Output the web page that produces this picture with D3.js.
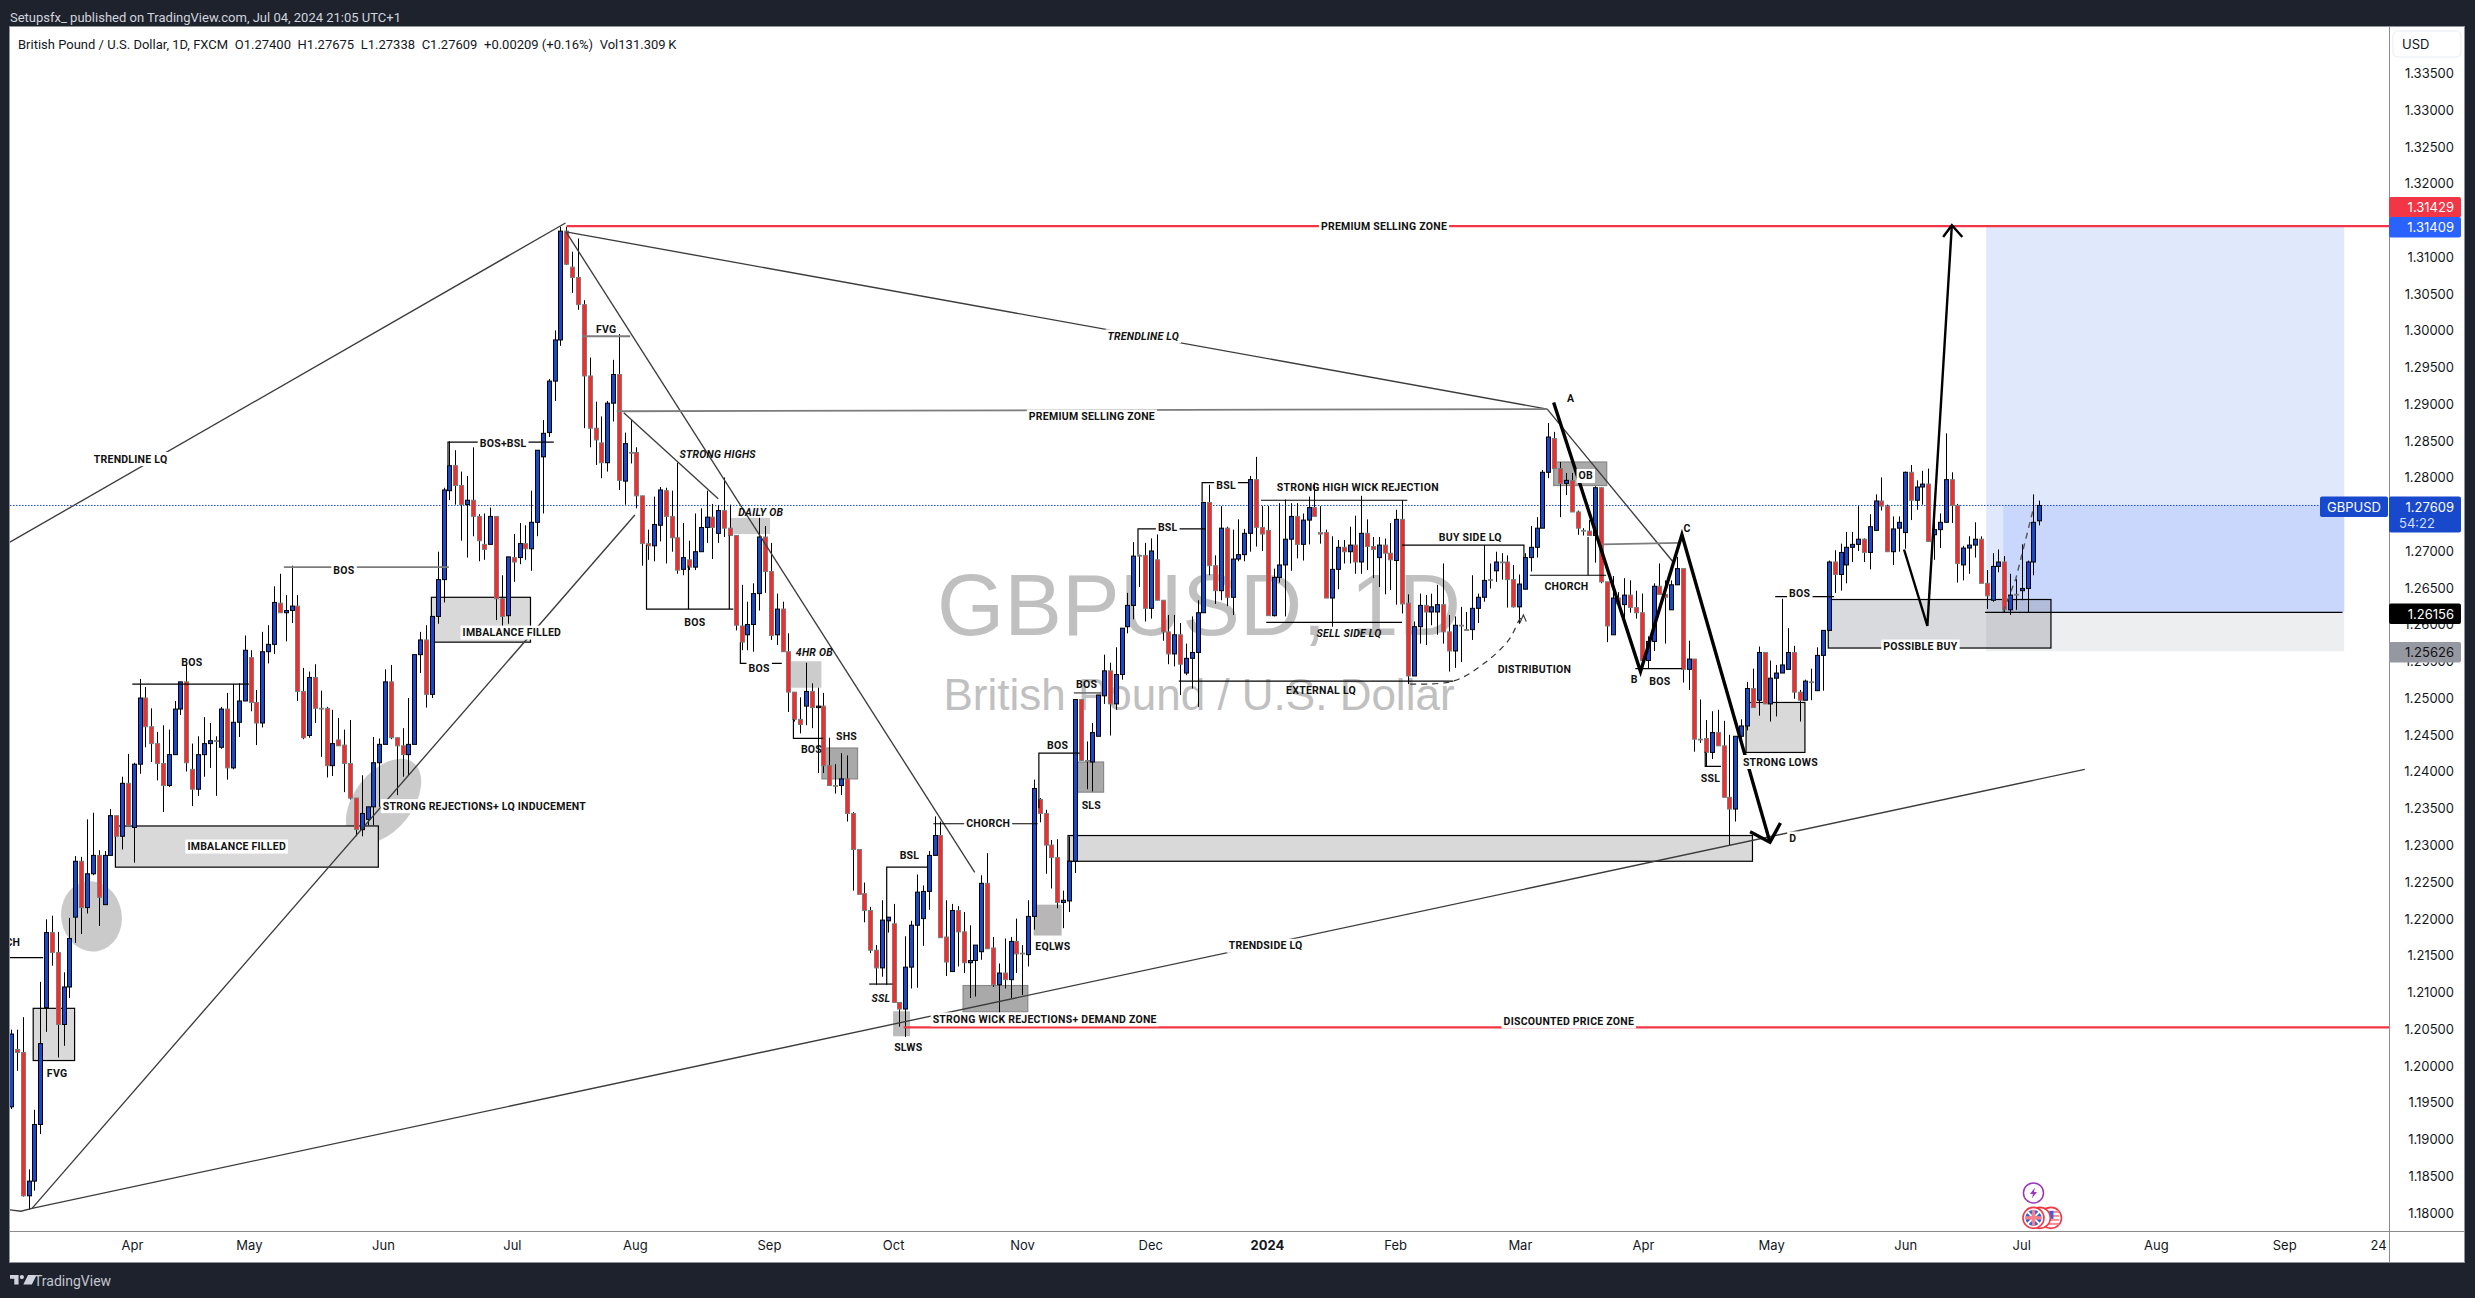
<!DOCTYPE html>
<html><head><meta charset="utf-8">
<script src="https://cdn.jsdelivr.net/npm/d3@7"></script>
<style>
html,body{margin:0;padding:0;background:#1e222d;overflow:hidden}
svg{display:block}
text{font-family:Inter,Roboto,sans-serif}
</style></head><body>
<svg id="c" width="2475" height="1298"></svg>
<script>
// ---------- Daily GBPUSD candles ----------
const opens=[
1.1943,1.2021,1.2017,1.1822,1.1842,1.1919,1.2078,1.2180,1.2153,1.2055,
1.2106,1.2201,1.2277,1.2214,1.2260,1.2285,1.2218,1.2285,1.2339,1.2311,
1.2383,1.2323,1.2409,1.2499,1.2460,1.2437,1.2410,1.2380,1.2422,1.2484,
1.2521,1.2402,1.2375,1.2422,1.2437,1.2441,1.2432,1.2484,1.2404,1.2466,
1.2495,1.2554,1.2493,1.2465,1.2562,1.2572,1.2628,1.2615,1.2618,1.2624,
1.2508,1.2448,1.2527,1.2485,1.2485,1.2407,1.2442,1.2435,1.2410,1.2363,
1.2320,1.2334,1.2351,1.2411,1.2436,1.2521,1.2445,1.2434,1.2422,1.2436,
1.2558,1.2578,1.2504,1.2610,1.2660,1.2781,1.2815,1.2788,1.2762,1.2768,
1.2746,1.2708,1.2708,1.2746,1.2634,1.2611,1.2690,1.2690,1.2709,1.2702,
1.2738,1.2827,1.2860,1.2930,1.2986,1.3134,1.3085,1.3071,1.3034,1.2937,
1.2866,1.2846,1.2819,1.2900,1.2939,1.2794,1.2833,1.2833,1.2774,1.2709,
1.2706,1.2734,1.2781,1.2746,1.2717,1.2674,1.2687,1.2677,1.2698,1.2731,
1.2745,1.2723,1.2754,1.2730,1.2720,1.2597,1.2585,1.2599,1.2641,1.2718,
1.2671,1.2585,1.2620,1.2562,1.2507,1.2470,1.2488,1.2508,1.2486,1.2488,
1.2407,1.2380,1.2380,1.2389,1.2342,1.2293,1.2233,1.2210,1.2156,1.2132,
1.2196,1.2192,1.2085,1.2076,1.2133,1.2190,1.2199,1.2236,1.2285,1.2312,
1.2174,1.2127,1.2210,1.2181,1.2139,1.2142,1.2154,1.2247,1.2159,1.2109,
1.2125,1.2116,1.2168,1.2152,1.2150,1.2202,1.2361,1.2342,1.2299,1.2282,
1.2221,1.2223,1.2277,1.2497,1.2414,1.2412,1.2447,1.2502,1.2536,1.2491,
1.2531,1.2596,1.2625,1.2693,1.2693,1.2621,1.2687,1.2632,1.2589,1.2559,
1.2585,1.2533,1.2553,1.2561,1.2615,1.2765,1.2679,1.2645,1.2730,1.2636,
1.2688,1.2694,1.2723,1.2796,1.2731,1.2727,1.2611,1.2663,1.2680,1.2715,
1.2746,1.2708,1.2741,1.2758,1.2724,1.2724,1.2635,1.2674,1.2704,1.2698,
1.2707,1.2684,1.2723,1.2705,1.2690,1.2707,1.2696,1.2686,1.2742,1.2628,
1.2529,1.2596,1.2625,1.2616,1.2616,1.2626,1.2589,1.2563,1.2598,1.2592,
1.2592,1.2621,1.2636,1.2660,1.2672,1.2684,1.2684,1.2660,1.2623,1.2647,
1.2690,1.2704,1.2730,1.2806,1.2852,1.2811,1.2791,1.2795,1.2752,1.2727,
1.2726,1.2720,1.2785,1.2657,1.2585,1.2635,1.2626,1.2639,1.2622,1.2615,
1.2550,1.2576,1.2651,1.2640,1.2619,1.2653,1.2675,1.2538,1.2552,1.2443,
1.2444,1.2425,1.2452,1.2434,1.2364,1.2348,1.2447,1.2461,1.2512,1.2496,
1.2561,1.2491,1.2526,1.2533,1.2538,1.2561,1.2507,1.2496,1.2521,1.2509,
1.2557,1.2591,1.2684,1.2667,1.2680,1.2704,1.2708,1.2715,1.2697,1.2727,
1.2767,1.2760,1.2698,1.2730,1.2724,1.2806,1.2768,1.2786,1.2790,1.2721,
1.2728,1.2738,1.2796,1.2761,1.2680,1.2703,1.2707,1.2715,1.2655,1.2632,
1.2678,1.2684,1.2619,1.2640,1.2645,1.2648,1.2684,1.27400];
const closes=[
1.2042,1.2017,1.1822,1.1842,1.1919,1.2029,1.2180,1.2153,1.2055,1.2106,
1.2172,1.2277,1.2214,1.2260,1.2285,1.2228,1.2285,1.2339,1.2311,1.2383,
1.2326,1.2409,1.2499,1.2460,1.2437,1.2410,1.2380,1.2422,1.2484,1.2521,
1.2411,1.2375,1.2422,1.2437,1.2441,1.2440,1.2484,1.2404,1.2466,1.2495,
1.2564,1.2493,1.2465,1.2562,1.2572,1.2629,1.2615,1.2618,1.2624,1.2508,
1.2445,1.2527,1.2485,1.2484,1.2407,1.2437,1.2434,1.2410,1.2363,1.2320,
1.2342,1.2351,1.2411,1.2436,1.2521,1.2445,1.2434,1.2422,1.2436,1.2558,
1.2578,1.2504,1.2610,1.2660,1.2782,1.2815,1.2788,1.2762,1.2768,1.2746,
1.2713,1.2701,1.2746,1.2634,1.2610,1.2691,1.2684,1.2709,1.2702,1.2738,
1.2836,1.2859,1.2930,1.2986,1.3134,1.3089,1.3071,1.3034,1.2937,1.2866,
1.2850,1.2819,1.2900,1.2939,1.2795,1.2845,1.2832,1.2774,1.2709,1.2706,
1.2735,1.2782,1.2746,1.2717,1.2673,1.2690,1.2677,1.2698,1.2731,1.2745,
1.2731,1.2754,1.2730,1.2720,1.2598,1.2575,1.2599,1.2641,1.2718,1.2671,
1.2584,1.2620,1.2562,1.2507,1.2470,1.2463,1.2508,1.2486,1.2488,1.2407,
1.2380,1.2379,1.2389,1.2342,1.2293,1.2232,1.2210,1.2156,1.2132,1.2197,
1.2201,1.2085,1.2076,1.2133,1.2190,1.2235,1.2236,1.2285,1.2312,1.2173,
1.2140,1.2210,1.2181,1.2139,1.2142,1.2163,1.2247,1.2158,1.2109,1.2125,
1.2116,1.2168,1.2151,1.2151,1.2202,1.2376,1.2342,1.2299,1.2282,1.2221,
1.2224,1.2277,1.2497,1.2414,1.2413,1.2452,1.2503,1.2536,1.2491,1.2531,
1.2594,1.2625,1.2692,1.2692,1.2621,1.2699,1.2632,1.2589,1.2559,1.2585,
1.2545,1.2553,1.2561,1.2615,1.2765,1.2679,1.2645,1.2730,1.2636,1.2688,
1.2694,1.2723,1.2796,1.2731,1.2722,1.2611,1.2663,1.2680,1.2715,1.2746,
1.2708,1.2741,1.2758,1.2746,1.2722,1.2635,1.2674,1.2704,1.2698,1.2707,
1.2684,1.2723,1.2705,1.2701,1.2707,1.2696,1.2687,1.2742,1.2627,1.2529,
1.2596,1.2625,1.2616,1.2623,1.2626,1.2589,1.2563,1.2598,1.2597,1.2591,
1.2621,1.2636,1.2659,1.2659,1.2684,1.2683,1.2660,1.2623,1.2654,1.2690,
1.2704,1.2730,1.2806,1.2854,1.2811,1.2791,1.2795,1.2752,1.2730,1.2726,
1.2720,1.2785,1.2657,1.2597,1.2635,1.2627,1.2639,1.2622,1.2615,1.2550,
1.2576,1.2651,1.2640,1.2636,1.2653,1.2675,1.2538,1.2552,1.2443,1.2442,
1.2425,1.2452,1.2434,1.2364,1.2348,1.2447,1.2461,1.2512,1.2486,1.2561,
1.2491,1.2526,1.2533,1.2544,1.2561,1.2507,1.2496,1.2522,1.2520,1.2557,
1.2591,1.2684,1.2667,1.2697,1.2704,1.2708,1.2715,1.2697,1.2732,1.2767,
1.2760,1.2698,1.2729,1.2738,1.2806,1.2768,1.2786,1.2790,1.2712,1.2728,
1.2738,1.2796,1.2761,1.2682,1.2703,1.2707,1.2715,1.2655,1.2638,1.2678,
1.2684,1.2619,1.2639,1.2639,1.2648,1.2684,1.2738,1.27609];
const highs=[
1.2048,1.2048,1.2065,1.1858,1.1939,1.2113,1.2198,1.2203,1.2181,1.2126,
1.2200,1.2284,1.2283,1.2334,1.2343,1.2292,1.2291,1.2348,1.2339,1.2392,
1.2423,1.2411,1.2525,1.2514,1.2485,1.2453,1.2462,1.2456,1.2495,1.2521,
1.2544,1.2437,1.2447,1.2473,1.2465,1.2447,1.2487,1.2506,1.2518,1.2519,
1.2584,1.2564,1.2510,1.2589,1.2598,1.2651,1.2668,1.2639,1.2679,1.2639,
1.2540,1.2535,1.2545,1.2509,1.2487,1.2483,1.2472,1.2456,1.2469,1.2363,
1.2394,1.2351,1.2446,1.2444,1.2538,1.2544,1.2445,1.2458,1.2499,1.2558,
1.2589,1.2598,1.2610,1.2698,1.2785,1.2848,1.2836,1.2807,1.2801,1.2840,
1.2749,1.2750,1.2758,1.2746,1.2666,1.2691,1.2722,1.2737,1.2734,1.2781,
1.2836,1.2877,1.2933,1.2999,1.3140,1.3140,1.3106,1.3124,1.3040,1.2962,
1.2902,1.2882,1.2903,1.2959,1.2994,1.2860,1.2877,1.2840,1.2774,1.2728,
1.2773,1.2786,1.2785,1.2781,1.2819,1.2737,1.2713,1.2750,1.2757,1.2781,
1.2763,1.2761,1.2799,1.2762,1.2720,1.2653,1.2630,1.2655,1.2744,1.2733,
1.2710,1.2641,1.2630,1.2587,1.2507,1.2500,1.2547,1.2519,1.2513,1.2506,
1.2445,1.2409,1.2424,1.2421,1.2344,1.2293,1.2248,1.2215,1.2163,1.2224,
1.2201,1.2219,1.2085,1.2175,1.2196,1.2259,1.2244,1.2291,1.2338,1.2331,
1.2224,1.2219,1.2216,1.2208,1.2190,1.2163,1.2258,1.2288,1.2174,1.2138,
1.2172,1.2174,1.2199,1.2163,1.2224,1.2388,1.2363,1.2347,1.2306,1.2307,
1.2237,1.2311,1.2497,1.2497,1.2440,1.2465,1.2503,1.2558,1.2547,1.2568,
1.2594,1.2642,1.2711,1.2694,1.2710,1.2716,1.2723,1.2632,1.2612,1.2612,
1.2601,1.2573,1.2610,1.2632,1.2765,1.2789,1.2693,1.2760,1.2732,1.2728,
1.2742,1.2729,1.2801,1.2827,1.2760,1.2760,1.2675,1.2764,1.2769,1.2764,
1.2764,1.2750,1.2773,1.2792,1.2760,1.2728,1.2719,1.2714,1.2714,1.2732,
1.2747,1.2774,1.2742,1.2718,1.2718,1.2716,1.2737,1.2755,1.2768,1.2640,
1.2603,1.2641,1.2639,1.2641,1.2653,1.2682,1.2612,1.2610,1.2623,1.2616,
1.2666,1.2641,1.2707,1.2682,1.2698,1.2696,1.2693,1.2680,1.2667,1.2696,
1.2733,1.2745,1.2809,1.2873,1.2861,1.2820,1.2805,1.2805,1.2754,1.2730,
1.2741,1.2787,1.2785,1.2657,1.2665,1.2643,1.2662,1.2659,1.2645,1.2641,
1.2583,1.2655,1.2682,1.2659,1.2659,1.2691,1.2675,1.2577,1.2552,1.2497,
1.2469,1.2481,1.2483,1.2468,1.2449,1.2447,1.2470,1.2521,1.2539,1.2569,
1.2561,1.2550,1.2544,1.2634,1.2594,1.2570,1.2510,1.2524,1.2539,1.2568,
1.2591,1.2686,1.2700,1.2709,1.2725,1.2725,1.2760,1.2716,1.2749,1.2776,
1.2799,1.2762,1.2746,1.2746,1.2807,1.2816,1.2795,1.2808,1.2811,1.2745,
1.2750,1.2859,1.2806,1.2763,1.2706,1.2719,1.2738,1.2719,1.2673,1.2696,
1.2701,1.2692,1.2668,1.2661,1.2708,1.2686,1.2776,1.27675];
const lows=[
1.1940,1.1992,1.1821,1.1803,1.1829,1.1906,1.2045,1.2135,1.2010,1.2026,
1.2091,1.2166,1.2178,1.2206,1.2258,1.2189,1.2218,1.2285,1.2311,1.2293,
1.2326,1.2275,1.2396,1.2432,1.2412,1.2387,1.2344,1.2378,1.2422,1.2476,
1.2399,1.2352,1.2366,1.2392,1.2404,1.2366,1.2430,1.2388,1.2402,1.2446,
1.2495,1.2481,1.2435,1.2459,1.2546,1.2559,1.2615,1.2576,1.2601,1.2495,
1.2443,1.2445,1.2465,1.2419,1.2391,1.2393,1.2434,1.2371,1.2361,1.2311,
1.2311,1.2326,1.2326,1.2351,1.2436,1.2443,1.2367,1.2392,1.2394,1.2436,
1.2533,1.2486,1.2499,1.2600,1.2629,1.2768,1.2762,1.2713,1.2690,1.2719,
1.2685,1.2687,1.2708,1.2605,1.2589,1.2600,1.2657,1.2681,1.2687,1.2672,
1.2719,1.2750,1.2854,1.2903,1.2978,1.3088,1.3050,1.3027,1.2866,1.2840,
1.2816,1.2798,1.2807,1.2875,1.2782,1.2762,1.2818,1.2757,1.2679,1.2687,
1.2685,1.2712,1.2682,1.2698,1.2668,1.2666,1.2673,1.2673,1.2698,1.2710,
1.2688,1.2710,1.2718,1.2720,1.2591,1.2564,1.2564,1.2562,1.2618,1.2642,
1.2578,1.2571,1.2562,1.2480,1.2467,1.2451,1.2462,1.2458,1.2397,1.2397,
1.2380,1.2369,1.2367,1.2331,1.2237,1.2232,1.2194,1.2152,1.2109,1.2120,
1.2180,1.2085,1.2052,1.2038,1.2104,1.2105,1.2162,1.2211,1.2285,1.2173,
1.2121,1.2127,1.2134,1.2125,1.2091,1.2093,1.2143,1.2158,1.2106,1.2070,
1.2104,1.2091,1.2125,1.2095,1.2134,1.2184,1.2330,1.2260,1.2240,1.2213,
1.2186,1.2208,1.2261,1.2414,1.2375,1.2372,1.2447,1.2491,1.2448,1.2483,
1.2524,1.2587,1.2606,1.2650,1.2603,1.2607,1.2632,1.2577,1.2545,1.2542,
1.2503,1.2530,1.2512,1.2487,1.2615,1.2666,1.2627,1.2632,1.2624,1.2612,
1.2685,1.2685,1.2698,1.2705,1.2699,1.2611,1.2610,1.2656,1.2610,1.2672,
1.2689,1.2686,1.2708,1.2746,1.2709,1.2635,1.2596,1.2647,1.2682,1.2682,
1.2668,1.2668,1.2673,1.2662,1.2650,1.2640,1.2646,1.2626,1.2614,1.2518,
1.2529,1.2573,1.2571,1.2598,1.2585,1.2573,1.2535,1.2540,1.2548,1.2591,
1.2578,1.2601,1.2630,1.2648,1.2657,1.2660,1.2622,1.2622,1.2600,1.2647,
1.2671,1.2690,1.2730,1.2798,1.2811,1.2745,1.2775,1.2752,1.2721,1.2720,
1.2720,1.2683,1.2655,1.2575,1.2585,1.2627,1.2605,1.2615,1.2607,1.2539,
1.2539,1.2563,1.2640,1.2573,1.2619,1.2653,1.2520,1.2510,1.2426,1.2438,
1.2406,1.2416,1.2434,1.2364,1.2299,1.2331,1.2437,1.2455,1.2486,1.2475,
1.2491,1.2467,1.2474,1.2533,1.2538,1.2498,1.2467,1.2496,1.2496,1.2509,
1.2509,1.2590,1.2642,1.2645,1.2655,1.2684,1.2699,1.2684,1.2674,1.2727,
1.2754,1.2698,1.2680,1.2698,1.2702,1.2741,1.2755,1.2762,1.2712,1.2687,
1.2703,1.2738,1.2737,1.2656,1.2659,1.2668,1.2690,1.2655,1.2620,1.2630,
1.2670,1.2615,1.2612,1.2619,1.2632,1.2615,1.2666,1.27338];

// ---------- Axes ----------
const priceTicks=[1.335,1.33,1.325,1.32,1.315,1.31,1.305,1.30,1.295,1.29,1.285,1.28,1.275,1.27,1.265,1.26,1.255,1.25,1.245,1.24,1.235,1.23,1.225,1.22,1.215,1.21,1.205,1.20,1.195,1.19,1.185,1.18];
const timeTickBars=[20.85,40.9,63.9,86,107.1,130.1,151.4,173.5,195.5,215.5,237.5,258.9,280,302,325,344.9,368,390,406.1];
const timeTickLabels=["Apr","May","Jun","Jul","Aug","Sep","Oct","Nov","Dec","2024","Feb","Mar","Apr","May","Jun","Jul","Aug","Sep","24"];

// ---------- Price levels ----------
const lastPrice=1.27609, tpPrice=1.31409, entryPrice=1.26156, stopPrice=1.25626, discountPrice=1.2051;
const priceTags=[["1.31429","#f23645","#fff"],["1.31409","#2962ff","#fff"],["1.26156","#000","#fff"],["1.25626","#9598a1","#111"]];
const headerText="Setupsfx_ published on TradingView.com, Jul 04, 2024 21:05 UTC+1";
const legendText="British Pound / U.S. Dollar, 1D, FXCM\u2002O1.27400\u2002H1.27675\u2002L1.27338\u2002C1.27609\u2002+0.00209 (+0.16%)\u2002Vol131.309\u2009K";

// ---------- Drawings, in [bar, price] ----------
const thinLines=[
 [[-0.1,1.2711],[95.2,1.3145]],
 [[3.7,1.1805],[107.1,1.2748]],
 [[3.7,1.1805],[355.8,1.2402]],
 [[-0.1,1.1803],[1.8,1.1801],[3.7,1.1805]],
 [[95.3,1.3133],[263.6,1.2892]],
 [[95.3,1.3133],[165.4,1.2262]],
 [[105.2,1.2887],[121.4,1.2770]],
 [[263.6,1.2892],[285.3,1.2683]]
];
const grayLines=[
 [[104,1.2889],[263.6,1.2892]],
 [[46.9,1.2677],[75.2,1.2677]],
 [[98.2,1.2991],[106.3,1.2991]],
 [[182.4,1.2506],[187.1,1.2506]],
 [[273,1.2708],[286.2,1.2710]]
];
const brackets=[
 [[75.05,1.2816],[75.05,1.2847],[93.2,1.2847]],
 [[20.9,1.2518],[40.9,1.2518]],
 [[-0.1,1.2146],[5.6,1.2146]],
 [[109.1,1.2707],[109.1,1.2620],[124,1.2620]],
 [[123.3,1.2720],[123.3,1.2620]],
 [[116.3,1.2679],[116.3,1.2620]],
 [[125.2,1.2575],[125.2,1.2546],[132.3,1.2546]],
 [[134.3,1.2470],[134.3,1.2444],[139.4,1.2444]],
 [[176.4,1.2349],[176.4,1.2424],[183.4,1.2424]],
 [[193.4,1.2694],[193.4,1.2729],[204.9,1.2729]],
 [[158.3,1.2328],[176.2,1.2328]],
 [[150.3,1.2109],[150.3,1.2269],[157.4,1.2269]],
 [[147.3,1.2110],[151.3,1.2110]],
 [[204.4,1.2766],[204.4,1.2792],[212.3,1.2792]],
 [[214.5,1.2768],[239.6,1.2768]],
 [[215.4,1.2602],[238.7,1.2602]],
 [[238.7,1.2707],[259.6,1.2707],[259.6,1.2689]],
 [[200.4,1.2522],[247.5,1.2522]],
 [[260.6,1.2666],[273.7,1.2666]],
 [[270.6,1.2718],[270.6,1.2666]],
 [[278.7,1.2539],[286.7,1.2539]],
 [[290.7,1.2426],[290.7,1.2406],[293.4,1.2406]],
 [[302.7,1.2637],[312.8,1.2637]]
];
const zigzagABCD=[[264.7,1.2901],[279.6,1.2535],[286.7,1.2721],[301.8,1.2303]];
const zigzagHead=[[298.4,1.2317],[301.8,1.2303],[303.6,1.2329]];
const buyPath=[[324.8,1.2701],[328.8,1.2597],[333,1.3142]];
const buyHead=[[331.5,1.3126],[333,1.3142],[334.8,1.3126]];
const dashedCurve=[[240.1,1.2518],[247.5,1.2522],[252.9,1.2547],[257,1.2578],[258.8,1.2605],[259.5,1.2612]];
const dashedHead=[[258.9,1.2601],[259.5,1.2612],[260,1.2603]];
const dashedUp=[[341.8,1.2616],[344,1.2662],[347,1.2757]];
// [bar1, bar2, priceTop, priceBottom, fill, stroke]
const boxes=[
 [3.9,11,1.2077,1.2006,"#d9d9d9","#000"],
 [18,63.1,1.2325,1.2269,"#d9d9d9","#000"],
 [72.2,89.2,1.2636,1.2575,"#d9d9d9","#000"],
 [123.4,130.3,1.2744,1.2722,"#cccccc","none"],
 [133.7,139.1,1.2549,1.2513,"#cccccc","none"],
 [139.2,145.3,1.2431,1.2389,"#a9a9a9","#888"],
 [182.9,187.5,1.2412,1.2371,"#a9a9a9","#888"],
 [175.5,180.3,1.2218,1.2176,"#b8b6b6","none"],
 [163.4,174.5,1.2108,1.2072,"#a9a9a9","#888"],
 [151.4,154.3,1.2073,1.2039,"#bbbbbb","none"],
 [181.4,298.8,1.2312,1.2277,"#d9d9d9","#000"],
 [264.7,273.8,1.2820,1.2788,"#a9a9a9","#888"],
 [297.7,307.8,1.2493,1.2425,"#d9d9d9","#000"]
];
const possibleBuyBox=[311.8,350,1.2633,1.2567];
const rrBars=[338.9,400.3], rrLiveBar=341.8;
// [bar, price, barRadius, priceRadius, tilt]
const ellipses=[[13.9,1.2202,5.2,0.0048,-10],[64,1.2359,5.0,0.0066,38]];
// [text, bar, price, italic, white background]
const labels=[
 ["TRENDLINE LQ",20.6,1.2824,0,1],["BOS+BSL",84.5,1.2845,0,1],["BOS",57.2,1.2673,0,1],["BOS",31.1,1.2548,0,0],
 ["IMBALANCE FILLED",86,1.2588,0,1],["STRONG REJECTIONS+ LQ INDUCEMENT",81.3,1.2352,0,1],["IMBALANCE FILLED",38.8,1.2297,0,1],
 ["CHORCH",-2.1,1.2166,0,0],["FVG",8,1.1989,0,0],["FVG",102.2,1.3000,0,0],["STRONG HIGHS",121.3,1.2830,1,0],["DAILY OB",128.7,1.2751,1,0],
 ["BOS",117.4,1.2602,0,0],["BOS",128.4,1.2539,0,1],["4HR OB",137.9,1.2561,1,0],["SHS",143.4,1.2447,0,0],["BOS",137.4,1.2429,0,0],
 ["SLS",185.4,1.2353,0,0],["BOS",179.6,1.2435,0,0],["BOS",184.6,1.2518,0,0],["BSL",198.5,1.2731,0,1],["CHORCH",167.7,1.2329,0,1],
 ["BSL",154.2,1.2285,0,0],["SSL",149.3,1.2091,1,0],["SLWS",154,1.2024,0,0],["STRONG WICK REJECTIONS+ DEMAND ZONE",177.4,1.2062,0,1],
 ["EQLWS",178.8,1.2161,0,0],["TRENDSIDE LQ",215.3,1.2162,0,1],["DISCOUNTED PRICE ZONE",267.3,1.2059,0,1],
 ["PREMIUM SELLING ZONE",235.6,1.3140,0,1],["PREMIUM SELLING ZONE",185.5,1.2882,0,1],["TRENDLINE LQ",194.3,1.2991,1,1],
 ["SELL SIDE LQ",229.6,1.2587,1,0],["BSL",208.5,1.2788,0,1],["STRONG HIGH WICK REJECTION",231.1,1.2786,0,0],["BUY SIDE LQ",250.4,1.2718,0,0],
 ["EXTERNAL LQ",224.8,1.2509,0,0],["DISTRIBUTION",261.4,1.2538,0,0],["CHORCH",266.9,1.2651,0,0],["OB",270.2,1.2801,0,1],
 ["A",267.6,1.2906,0,0],["B",278.5,1.2524,0,0],["C",287.6,1.2729,0,0],["D",305.7,1.2308,0,1],["BOS",282.9,1.2522,0,0],
 ["STRONG LOWS",303.6,1.2412,0,1],["SSL",291.6,1.2389,0,0],["BOS",306.9,1.2641,0,1],["POSSIBLE BUY",327.6,1.2569,0,1]
];

// ---------- Scales ----------
const W=2475,H=1298, L=10,R=2389,T=27,B=1231;
const x=d3.scaleLinear().domain([0,348]).range([10.46,2039.3]);
const y=d3.scaleLinear().domain([1.18,1.335]).range([1212,72.3]);
const slot=d3.scaleLinear().domain([0,opens.length-1]).range([x(0.09),x(348)]);
const BLUE="#1848cc",RED="#fb2a2a",LINE="#f23645";

const svg=d3.select("#c");
svg.append("rect").attr("width",W).attr("height",H).attr("fill","#1e222d");
svg.append("rect").attr("x",L).attr("y",T).attr("width",2464-L).attr("height",1262-T).attr("fill","#fff");
svg.append("rect").attr("x",L-.5).attr("y",T-.5).attr("width",2464-L+1).attr("height",1262-T+1).attr("fill","none").attr("stroke","#8f929b");
svg.append("defs").append("clipPath").attr("id","plot").append("rect").attr("x",L).attr("y",T).attr("width",R-L).attr("height",B-T);
const plot=svg.append("g").attr("clip-path","url(#plot)");
const ln=d3.line().x(d=>x(d[0])).y(d=>y(d[1]));

// watermark
plot.append("text").attr("x",1199).attr("y",635).attr("text-anchor","middle").attr("fill","#c0c0c0")
 .style("font-family","'Liberation Sans'").style("font-size","86.5px").text("GBPUSD, 1D");
plot.append("text").attr("x",1199).attr("y",710).attr("text-anchor","middle").attr("fill","#c0c0c0")
 .style("font-family","'Liberation Sans'").style("font-size","44px").text("British Pound / U.S. Dollar");

// reward / risk
const rr=plot.append("g");
rr.append("rect").attr("x",x(rrBars[0])).attr("width",x(rrBars[1])-x(rrBars[0])).attr("y",y(tpPrice)).attr("height",y(entryPrice)-y(tpPrice)).attr("fill","#e0e8fc");
rr.append("rect").attr("x",x(rrLiveBar)).attr("width",x(rrBars[1])-x(rrLiveBar)).attr("y",y(lastPrice)).attr("height",y(entryPrice)-y(lastPrice)).attr("fill","#c8d7fb");
rr.append("rect").attr("x",x(rrBars[0])).attr("width",x(rrBars[1])-x(rrBars[0])).attr("y",y(entryPrice)).attr("height",y(stopPrice)-y(entryPrice)).attr("fill","#edeef0");

// ellipses
plot.selectAll("ellipse.z").data(ellipses).join("ellipse")
 .attr("cx",0).attr("cy",0)
 .attr("rx",d=>x(d[2])-x(0)).attr("ry",d=>y(0)-y(d[3]))
 .attr("transform",d=>`translate(${x(d[0])},${y(d[1])}) rotate(${d[4]})`)
 .attr("fill","rgba(110,110,110,.37)");

// boxes
plot.selectAll("rect.b").data(boxes).join("rect").attr("class","b")
 .attr("x",d=>x(d[0])).attr("width",d=>x(d[1])-x(d[0])).attr("y",d=>y(d[2])).attr("height",d=>y(d[3])-y(d[2]))
 .attr("fill",d=>d[4]).attr("stroke",d=>d[5]).attr("stroke-width",1.2);
plot.append("rect").attr("x",x(possibleBuyBox[0])).attr("width",x(possibleBuyBox[1])-x(possibleBuyBox[0]))
 .attr("y",y(possibleBuyBox[2])).attr("height",y(possibleBuyBox[3])-y(possibleBuyBox[2]))
 .attr("fill","rgba(120,123,134,.28)").attr("stroke","#000").attr("stroke-width",1.2);

// last price dotted line
plot.append("line").attr("x1",L).attr("x2",2320).attr("y1",y(lastPrice)).attr("y2",y(lastPrice))
 .attr("stroke",BLUE).attr("stroke-width",1).attr("stroke-dasharray","1.5 1.5");

// candles
const idx=d3.range(opens.length);
const cg=plot.append("g");
cg.selectAll("line").data(idx).join("line")
 .attr("x1",i=>Math.round(slot(i))+.5).attr("x2",i=>Math.round(slot(i))+.5)
 .attr("y1",i=>y(highs[i])).attr("y2",i=>y(lows[i])).attr("stroke","#000").attr("stroke-width",1);
cg.selectAll("rect").data(idx).join("rect")
 .attr("x",i=>Math.round(slot(i))-1.5).attr("width",4)
 .attr("y",i=>y(Math.max(opens[i],closes[i])))
 .attr("height",i=>Math.max(.6,Math.abs(y(opens[i])-y(closes[i]))))
 .attr("fill",i=>closes[i]>=opens[i]?BLUE:RED)
 .attr("stroke",i=>closes[i]>=opens[i]?"#000":"#7d7d7d").attr("stroke-width",1);

// lines
const dl=(arr,cls)=>plot.append("g").selectAll("path").data(arr).join("path").attr("d",ln).attr("fill","none").attr("stroke-linejoin","miter");
dl(thinLines).attr("stroke","#3c3c3c").attr("stroke-width",1.35);
dl(grayLines).attr("stroke","#7c7c7c").attr("stroke-width",1.8);
dl(brackets).attr("stroke","#000").attr("stroke-width",1.2);
plot.append("line").attr("x1",x(95.4)).attr("x2",R).attr("y1",y(tpPrice)).attr("y2",y(tpPrice)).attr("stroke",LINE).attr("stroke-width",2.2);
plot.append("line").attr("x1",x(153.2)).attr("x2",R).attr("y1",y(discountPrice)).attr("y2",y(discountPrice)).attr("stroke",LINE).attr("stroke-width",2.2);
plot.append("line").attr("x1",x(338.7)).attr("x2",x(400)).attr("y1",y(entryPrice)).attr("y2",y(entryPrice)).attr("stroke","#000").attr("stroke-width",1.2);
dl([zigzagABCD,zigzagHead]).attr("stroke","#000").attr("stroke-width",3.4);
dl([buyPath,buyHead]).attr("stroke","#000").attr("stroke-width",2.4);
plot.append("path").attr("d",d3.line().x(d=>x(d[0])).y(d=>y(d[1])).curve(d3.curveCatmullRom)(dashedCurve)).attr("fill","none").attr("stroke","#333").attr("stroke-width",1.2).attr("stroke-dasharray","6 5");
plot.append("path").attr("d",ln(dashedHead)).attr("fill","none").attr("stroke","#333").attr("stroke-width",1.1);
plot.append("path").attr("d",ln(dashedUp)).attr("fill","none").attr("stroke","#555").attr("stroke-width",1.4).attr("stroke-dasharray","6 5");

// labels
const lg=plot.append("g").selectAll("g").data(labels).join("g").attr("transform",d=>`translate(${x(d[1])},${y(d[2])})`);
const lt=lg.append("text").attr("text-anchor","middle").attr("dominant-baseline","central")
 .style("font-family","Roboto").style("font-size","10.5px").style("font-weight",700).style("letter-spacing",".25px")
 .style("font-style",d=>d[3]?"italic":"normal").attr("fill","#111").text(d=>d[0]);
lg.each(function(d){ if(!d[4])return; const t=d3.select(this).select("text"); const b=t.node().getBBox();
 d3.select(this).insert("rect","text").attr("x",b.x-2).attr("y",b.y-.5).attr("width",b.width+4).attr("height",b.height+1).attr("fill","#fff");});

// event icons
const ev=plot.append("g");
const evPrice=1.1792;
[[350,"#f23645"],[348.1,"#f23645"],[347,"#f23645"]].forEach(([b,c],n)=>{
 const g=ev.append("g").attr("transform",`translate(${x(b)},${y(evPrice)})`);
 g.append("circle").attr("r",10.5).attr("fill","#fff").attr("stroke",c).attr("stroke-width",1.6);
 if(n==0){for(let k=-6;k<=6;k+=4)g.append("line").attr("x1",-8).attr("x2",8).attr("y1",k).attr("y2",k).attr("stroke","#f58a92").attr("stroke-width",2);
  g.append("rect").attr("x",-1.5).attr("y",-7).attr("width",4).attr("height",8).attr("fill","#2962ff");}
 if(n==2){g.append("circle").attr("r",8).attr("fill","#2f5fd0");
  [[-6,-6,6,6],[-6,6,6,-6]].forEach(a=>g.append("line").attr("x1",a[0]).attr("y1",a[1]).attr("x2",a[2]).attr("y2",a[3]).attr("stroke","#fff").attr("stroke-width",2));
  g.append("line").attr("x1",-8).attr("x2",8).attr("stroke","#f7808a").attr("stroke-width",3.4);
  g.append("line").attr("y1",-8).attr("y2",8).attr("stroke","#f7808a").attr("stroke-width",3.4);}
});
const bolt=ev.append("g").attr("transform",`translate(${x(347)},${y(1.1826)})`);
bolt.append("circle").attr("r",10).attr("fill","#fff").attr("stroke","#9c35bd").attr("stroke-width",1.5);
bolt.append("path").attr("d","M1.5,-5.5 L-3.5,1 L-.5,1 L-1.5,5.5 L3.5,-1 L.5,-1 Z").attr("fill","#9c35bd");

// axes
svg.append("line").attr("x1",R+.5).attr("x2",R+.5).attr("y1",T).attr("y2",1262).attr("stroke","#8c8c8c");
svg.append("line").attr("x1",L).attr("x2",2464).attr("y1",B+.5).attr("y2",B+.5).attr("stroke","#8c8c8c");
const ya=svg.append("g").attr("transform",`translate(2454,1)`).call(d3.axisLeft(y).tickValues(priceTicks).tickSize(0).tickFormat(d3.format(".5f")));
ya.select(".domain").remove();
ya.selectAll("text").attr("x",0).attr("fill","#131722").style("font-family","Inter").style("font-size","13px");
const xa=svg.append("g").attr("transform",`translate(0,${B+8})`).call(d3.axisBottom(x).tickValues(timeTickBars).tickSize(0).tickFormat((d,i)=>timeTickLabels[i]));
xa.select(".domain").remove();
xa.selectAll("text").attr("y",2).attr("dy",".71em").attr("fill","#131722").style("font-family","Inter").style("font-size","13px")
  .style("font-weight",(d,i)=>timeTickLabels[i]=="2024"?700:400);

// USD chip
svg.append("rect").attr("x",2393).attr("y",31).attr("width",68).attr("height",26).attr("rx",5).attr("fill","#fff").attr("stroke","#f0f3fa").attr("stroke-width",1.5);
svg.append("text").attr("x",2402).attr("y",49).attr("fill","#131722").style("font-family","Inter").style("font-size","13px").text("USD");

// price tags
const tagY=[197,217,603.6,642], tagH=[20.5,20.5,20.5,20.5];
priceTags.forEach((t,k)=>{
 svg.append("rect").attr("x",R).attr("y",tagY[k]).attr("width",72).attr("height",tagH[k]).attr("rx",2).attr("fill",t[1]);
 svg.append("text").attr("x",2454).attr("y",tagY[k]+15).attr("text-anchor","end").attr("fill",t[2]).style("font-family","Inter").style("font-size","13px").text(t[0]);
});
svg.append("rect").attr("x",R).attr("y",496.4).attr("width",72).attr("height",36.2).attr("rx",2).attr("fill",BLUE);
svg.append("text").attr("x",2454).attr("y",511.5).attr("text-anchor","end").attr("fill","#fff").style("font-family","Inter").style("font-size","13px").text(d3.format(".5f")(lastPrice));
svg.append("text").attr("x",2399).attr("y",527.5).attr("fill","#d3def8").style("font-family","Inter").style("font-size","13px").text("54:22");
svg.append("rect").attr("x",2320).attr("y",496.4).attr("width",68).attr("height",20.5).attr("rx",2).attr("fill",BLUE);
svg.append("text").attr("x",2354).attr("y",511.5).attr("text-anchor","middle").attr("fill","#fff").style("font-family","Inter").style("font-size","13px").text("GBPUSD");

// header / legend / footer
svg.append("text").attr("x",10).attr("y",22).attr("fill","#d1d4dc").style("font-family","Roboto").style("font-size","13px").text(headerText);
svg.append("text").attr("x",18).attr("y",49).attr("fill","#131722").style("font-family","Roboto").style("font-size","13px").text(legendText);
const logo=svg.append("g").attr("transform","translate(10,1275) scale(.95)").attr("fill","#d1d4dc");
logo.append("path").attr("d","M0,0 H9 V10 H4.5 V4 H0 Z");
logo.append("circle").attr("cx",12.5).attr("cy",2.2).attr("r",2.2);
logo.append("path").attr("d","M19,0 H28 L23,10 H14 Z");
svg.append("text").attr("x",34).attr("y",1286).attr("fill","#c3c6ce").style("font-family","Roboto").style("font-size","14px").text("TradingView");
</script>
</body></html>
